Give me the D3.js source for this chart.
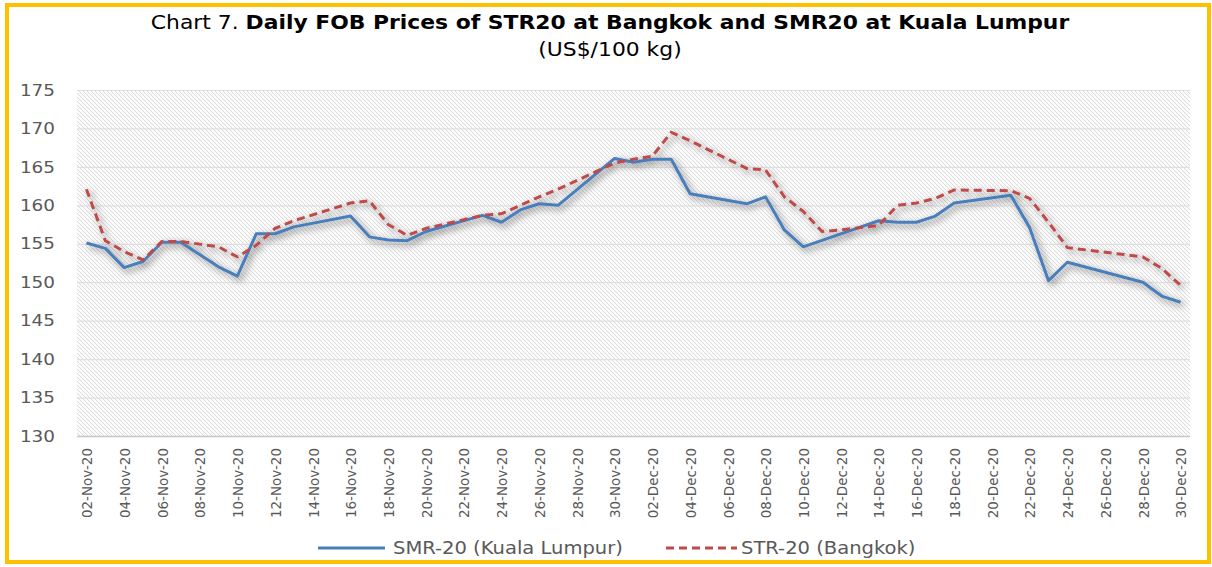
<!DOCTYPE html>
<html>
<head>
<meta charset="utf-8">
<script src="https://cdn.jsdelivr.net/npm/d3@7"></script>
<style>
body { margin: 0; background: #fff; }
svg { display: block; }
</style>
</head>
<body>
<div id="chart"></div>
<script>
var dates = ["02-Nov-20","03-Nov-20","04-Nov-20","05-Nov-20","06-Nov-20","07-Nov-20",
	"09-Nov-20","10-Nov-20","11-Nov-20","12-Nov-20","13-Nov-20",
	"16-Nov-20","17-Nov-20","18-Nov-20","19-Nov-20","20-Nov-20",
	"23-Nov-20","24-Nov-20","25-Nov-20","26-Nov-20","27-Nov-20",
	"30-Nov-20","01-Dec-20","02-Dec-20","03-Dec-20","04-Dec-20",
	"07-Dec-20","08-Dec-20","09-Dec-20","10-Dec-20","11-Dec-20","12-Dec-20",
	"14-Dec-20","15-Dec-20","16-Dec-20","17-Dec-20","18-Dec-20",
	"21-Dec-20","22-Dec-20","23-Dec-20","24-Dec-20",
	"28-Dec-20","29-Dec-20","30-Dec-20"];

// SMR-20 (Kuala Lumpur)
var smr = [155.1,154.4,151.9,152.7,155.2,155.2,
	152.0,150.8,156.3,156.3,157.2,
	158.6,155.9,155.5,155.4,156.6,
	158.7,157.8,159.4,160.2,160.0,
	166.1,165.6,166.0,166.0,161.5,
	160.2,161.1,156.8,154.6,null,null,
	158.0,157.8,157.8,158.6,160.3,
	161.3,157.1,150.2,152.6,
	150.0,148.2,147.4];

// STR-20 (Bangkok)
var str = [162.1,155.4,154.0,152.9,155.3,155.3,
	154.6,153.3,154.8,157.0,158.0,
	160.3,160.6,157.5,156.1,157.0,
	158.7,158.9,160.0,161.1,162.1,
	165.5,166.0,166.4,169.5,168.4,
	164.8,164.6,161.1,159.2,156.6,156.8,
	157.4,160.0,160.3,160.9,162.0,
	161.9,160.9,157.8,154.5,
	153.3,151.8,149.6];

var yTicks = [130,135,140,145,150,155,160,165,170,175];

var tickLabels = ["02-Nov-20","04-Nov-20","06-Nov-20","08-Nov-20","10-Nov-20","12-Nov-20",
	"14-Nov-20","16-Nov-20","18-Nov-20","20-Nov-20","22-Nov-20","24-Nov-20","26-Nov-20",
	"28-Nov-20","30-Nov-20","02-Dec-20","04-Dec-20","06-Dec-20","08-Dec-20","10-Dec-20",
	"12-Dec-20","14-Dec-20","16-Dec-20","18-Dec-20","20-Dec-20","22-Dec-20","24-Dec-20",
	"26-Dec-20","28-Dec-20","30-Dec-20"];

(function () {
	var w = 1212;
	var h = 567;
	var plotLeft = 77, plotRight = 1190, plotTop = 90, plotBottom = 436;
	var stretch = 'scale(1.15,1)';
	var halfDay = 12 * 3600 * 1000;
	var parse = d3.utcParse("%d-%b-%y");

	var x = d3.scaleUtc()
		.domain([+parse(tickLabels[0]) - halfDay, +parse(tickLabels[tickLabels.length - 1]) + halfDay])
		.range([plotLeft, plotRight]);

	var y = d3.scaleLinear()
		.domain([130, 175])
		.range([plotBottom, plotTop]);

	var svg = d3.select('#chart')
		.append('svg')
		.attr('width', w)
		.attr('height', h);

	var defs = svg.append('defs');

	var pat = defs.append('pattern')
		.attr('id', 'hatch')
		.attr('patternUnits', 'userSpaceOnUse')
		.attr('width', 4)
		.attr('height', 4);
	pat.append('rect').attr('width', 4).attr('height', 4).attr('fill', '#fbfbfb');
	pat.append('path').attr('d', 'M0,0 L4,4').attr('stroke', '#dcdcdc').attr('stroke-width', 1);

	var shadow = defs.append('filter')
		.attr('id', 'shadow')
		.attr('x', '-5%').attr('y', '-20%')
		.attr('width', '110%').attr('height', '140%');
	shadow.append('feGaussianBlur').attr('in', 'SourceAlpha').attr('stdDeviation', 3.5).attr('result', 'blur');
	shadow.append('feOffset').attr('in', 'blur').attr('dx', 3).attr('dy', 3).attr('result', 'off');
	shadow.append('feComponentTransfer').attr('in', 'off').attr('result', 'soft')
		.append('feFuncA').attr('type', 'linear').attr('slope', 0.5);
	var merge = shadow.append('feMerge');
	merge.append('feMergeNode').attr('in', 'soft');
	merge.append('feMergeNode').attr('in', 'SourceGraphic');

	// outer frame
	svg.append('rect')
		.attr('x', 7).attr('y', 5)
		.attr('width', 1202).attr('height', 557)
		.attr('fill', '#fff')
		.attr('stroke', '#FFC000')
		.attr('stroke-width', 4);

	// title
	var title = svg.append('text')
		.attr('transform', 'translate(610,29) ' + stretch)
		.attr('text-anchor', 'middle')
		.attr('font-family', 'DejaVu Sans, sans-serif')
		.attr('font-size', '19px')
		.attr('fill', '#000');
	title.append('tspan').text('Chart 7. ');
	title.append('tspan').attr('font-weight', 'bold')
		.text('Daily FOB Prices of STR20 at Bangkok and SMR20 at Kuala Lumpur');

	svg.append('text')
		.attr('transform', 'translate(610,56) ' + stretch)
		.attr('text-anchor', 'middle')
		.attr('font-family', 'DejaVu Sans, sans-serif')
		.attr('font-size', '19px')
		.attr('fill', '#000')
		.text('(US$/100 kg)');

	// plot background
	svg.append('rect')
		.attr('x', plotLeft).attr('y', plotTop)
		.attr('width', plotRight - plotLeft).attr('height', plotBottom - plotTop)
		.attr('fill', 'url(#hatch)');

	// gridlines
	svg.append('g')
		.selectAll('line')
		.data(yTicks)
		.enter()
		.append('line')
		.attr('x1', plotLeft).attr('x2', plotRight)
		.attr('y1', function (d) { return y(d) + 0.5; })
		.attr('y2', function (d) { return y(d) + 0.5; })
		.attr('stroke', function (d) { return d === 130 ? '#c8c8c8' : '#e0e0e0'; })
		.attr('stroke-width', function (d) { return d === 130 ? 1.5 : 1.2; });

	// y axis
	var yAxis = svg.append('g')
		.attr('transform', 'translate(55,0)')
		.call(d3.axisLeft(y).tickValues(yTicks).tickSize(0).tickPadding(0));
	yAxis.select('.domain').remove();
	yAxis.selectAll('text')
		.attr('x', 0)
		.attr('text-anchor', 'end')
		.attr('transform', stretch)
		.attr('font-family', 'DejaVu Sans, sans-serif')
		.attr('font-size', '16px')
		.attr('fill', '#595959');

	// x axis
	var xAxis = svg.append('g')
		.attr('transform', 'translate(0,' + plotBottom + ')')
		.call(d3.axisBottom(x)
			.tickValues(tickLabels.map(parse))
			.tickFormat(d3.utcFormat('%d-%b-%y'))
			.tickSize(0));
	xAxis.select('.domain').remove();
	xAxis.selectAll('text')
		.attr('font-family', 'DejaVu Sans, sans-serif')
		.attr('font-size', '13.5px')
		.attr('fill', '#595959')
		.attr('text-anchor', 'end')
		.attr('transform', 'rotate(-90) scale(1,1.1)')
		.attr('x', -12)
		.attr('y', 0)
		.attr('dy', '0.35em');

	var lineFn = d3.line()
		.x(function (d) { return x(d.date); })
		.y(function (d) { return y(d.value); })
		.curve(d3.curveLinear);

	function series(values) {
		return dates.map(function (d, i) { return { date: parse(d), value: values[i] }; })
			.filter(function (d) { return d.value !== null; });
	}

	var lines = svg.append('g').attr('filter', 'url(#shadow)');

	lines.append('path')
		.attr('d', lineFn(series(smr)))
		.attr('fill', 'none')
		.attr('stroke', '#4A7EBB')
		.attr('stroke-width', 3)
		.attr('stroke-linejoin', 'round');

	lines.append('path')
		.attr('d', lineFn(series(str)))
		.attr('fill', 'none')
		.attr('stroke', '#BE4B48')
		.attr('stroke-width', 3)
		.attr('stroke-dasharray', '8,5');

	// legend
	var legend = svg.append('g')
		.attr('font-family', 'DejaVu Sans, sans-serif')
		.attr('font-size', '17px')
		.attr('fill', '#595959');

	legend.append('line')
		.attr('x1', 318).attr('x2', 385).attr('y1', 548).attr('y2', 548)
		.attr('stroke', '#4A7EBB').attr('stroke-width', 3);
	legend.append('text').attr('transform', 'translate(393,554) ' + stretch).text('SMR-20 (Kuala Lumpur)');

	legend.append('line')
		.attr('x1', 666).attr('x2', 737).attr('y1', 548).attr('y2', 548)
		.attr('stroke', '#BE4B48').attr('stroke-width', 3)
		.attr('stroke-dasharray', '8,5');
	legend.append('text').attr('transform', 'translate(741,554) ' + stretch).text('STR-20 (Bangkok)');
})();
</script>
</body>
</html>
